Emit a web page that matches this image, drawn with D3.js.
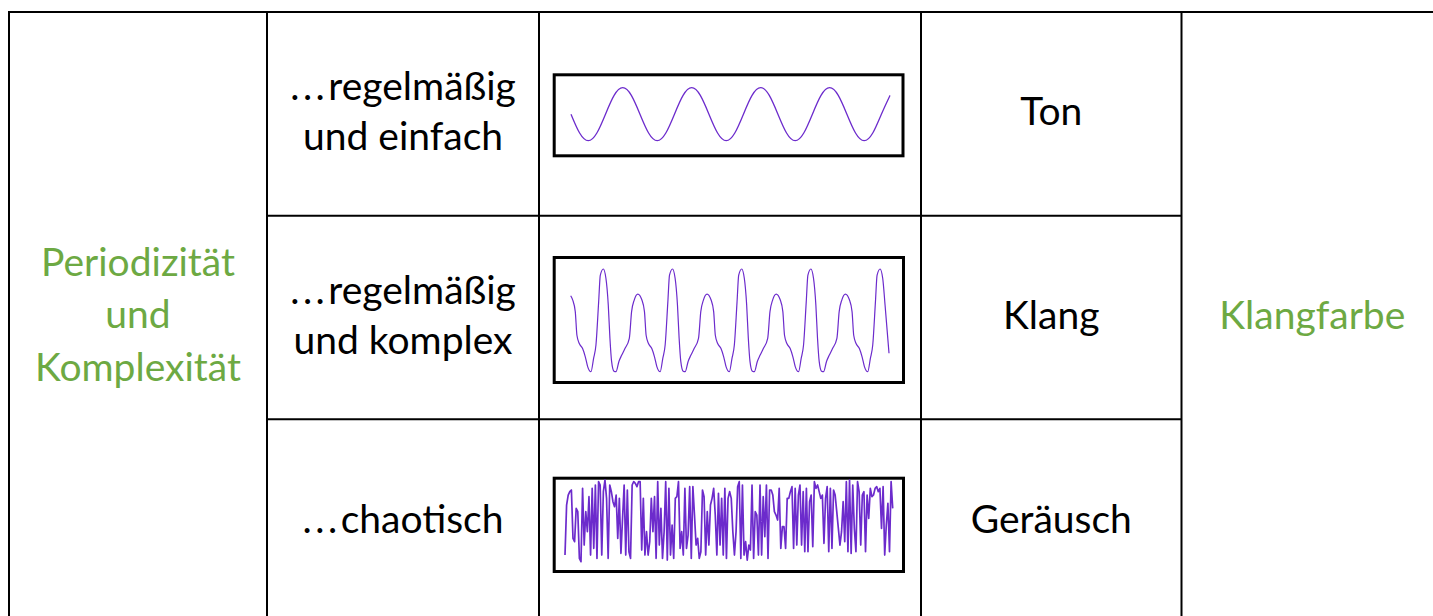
<!DOCTYPE html>
<html><head><meta charset="utf-8">
<script src="https://cdn.jsdelivr.net/npm/d3@7"></script>
<style>html,body{margin:0;padding:0;background:#fff;overflow:hidden}svg{display:block}</style>
</head><body>
<script>
// ---------- data ----------
const leftLabel = ["Periodizität", "und", "Komplexität"];
const rowLabels = [["...regelmäßig", "und einfach"], ["...regelmäßig", "und komplex"], ["...chaotisch"]];
const soundTypes = ["Ton", "Klang", "Geräusch"];
const rightLabel = ["Klangfarbe"];

const toneValues = [0,-0.71,-1,-0.71,0,0.71,1,0.71, 0,-0.71,-1,-0.71,0,0.71,1,0.71,
  0,-0.71,-1,-0.71,0,0.71,1,0.71, 0,-0.71,-1,-0.71,0,0.71,1,0.71, 0,-0.71,-1,-0.71,0,0.71];

// complex periodic sound: time (periods) and amplitude
const klangTime = [0.03,0.058,0.096,0.120,0.154,0.202,0.241,0.275,0.323,0.361,0.395,0.434,0.458,0.501,0.539,0.573,0.597,0.621,0.655,0.684,0.727,0.766,0.814,0.877,0.910,0.949,
  1.000,1.058,1.096,1.120,1.154,1.202,1.241,1.275,1.323,1.361,1.395,1.434,1.458,1.501,1.539,1.573,1.597,1.621,1.655,1.684,1.727,1.766,1.814,1.877,1.910,1.949,
  2.000,2.058,2.096,2.120,2.154,2.202,2.241,2.275,2.323,2.361,2.395,2.434,2.458,2.501,2.539,2.573,2.597,2.621,2.655,2.684,2.727,2.766,2.814,2.877,2.910,2.949,
  3.000,3.058,3.096,3.120,3.154,3.202,3.241,3.275,3.323,3.361,3.395,3.434,3.458,3.501,3.539,3.573,3.597,3.621,3.655,3.684,3.727,3.766,3.814,3.877,3.910,3.949,
  4.000,4.058,4.096,4.120,4.154,4.202,4.241,4.275,4.323,4.361,4.395,4.434,4.458,4.501,4.539,4.573,4.63];
const klangValue = [0.48,0.40,0.17,-0.29,-0.45,-0.55,-0.71,-0.90,-1.00,-0.74,-0.48,0.36,0.88,1.00,0.82,0.30,-0.35,-0.80,-0.99,-1.00,-0.80,-0.68,-0.55,-0.35,0.17,0.40,
  0.51,0.40,0.17,-0.29,-0.45,-0.55,-0.71,-0.90,-1.00,-0.74,-0.48,0.36,0.88,1.00,0.82,0.30,-0.35,-0.80,-0.99,-1.00,-0.80,-0.68,-0.55,-0.35,0.17,0.40,
  0.51,0.40,0.17,-0.29,-0.45,-0.55,-0.71,-0.90,-1.00,-0.74,-0.48,0.36,0.88,1.00,0.82,0.30,-0.35,-0.80,-0.99,-1.00,-0.80,-0.68,-0.55,-0.35,0.17,0.40,
  0.51,0.40,0.17,-0.29,-0.45,-0.55,-0.71,-0.90,-1.00,-0.74,-0.48,0.36,0.88,1.00,0.82,0.30,-0.35,-0.80,-0.99,-1.00,-0.80,-0.68,-0.55,-0.35,0.17,0.40,
  0.51,0.40,0.17,-0.29,-0.45,-0.55,-0.71,-0.90,-1.00,-0.74,-0.48,0.36,0.88,1.00,0.82,0.30,-0.64];

// noise: amplitude per sample
const noiseValues = [-0.80,0.40,0.64,0.72,0.76,-0.40,-0.48,0.32,0.24,-0.88,-0.96,0.80,-0.56,0.24,-0.24,0.60,-0.80,0.80,-0.64,0.88,
  -0.88,0.96,0.88,-0.80,0.72,1.00,0.56,-0.88,0.88,0.72,0.48,0.36,0.64,-0.40,0.56,-0.76,0.08,0.88,-0.80,0.76,
  -0.72,-0.88,0.88,0.96,0.92,0.84,0.96,0.96,-0.68,0.56,-0.80,-0.24,-0.80,-0.48,0.56,-0.24,0.60,-0.88,0.96,-0.56,
  0.32,-0.88,-0.24,0.96,-0.92,0.80,-0.80,-0.08,-0.88,0.56,0.60,0.96,-0.64,-0.24,-0.80,0.80,-0.64,-0.32,0.84,-0.88,
  0.84,0.16,-0.56,-0.40,-0.88,-0.72,0.76,0.60,-0.80,0.24,-0.56,0.40,0.56,0.80,0.16,-0.80,0.68,-0.56,0.56,-0.80,
  0.80,-0.88,0.56,0.72,0.56,-0.24,-0.80,-0.24,0.84,0.96,-0.88,0.88,-0.80,-0.48,-0.92,-0.56,-0.68,0.88,-0.88,0.24,
  0.16,-0.80,0.88,-0.80,0.60,-0.36,0.88,-0.88,0.76,0.76,0.64,0.24,0.16,0.04,0.80,-0.64,-0.12,-0.12,-0.64,0.56,
  0.56,0.72,0.84,-0.64,0.80,-0.56,0.64,0.88,-0.56,0.72,-0.72,0.80,-0.72,0.48,0.64,-0.60,0.96,0.80,0.88,0.72,
  0.56,0.64,-0.52,0.56,0.84,-0.72,0.80,-0.64,0.76,0.64,0.24,-0.16,-0.56,-0.24,0.48,-0.48,0.96,-0.72,1.00,-0.76,
  0.88,-0.16,-0.72,0.96,0.72,-0.56,0.64,0.72,-0.72,0.64,0.08,0.80,0.60,0.64,0.80,0.84,0.72,0.80,-0.16,0.84,
  -0.80,-0.08,0.44,-0.72,0.96,0.32];

// ---------- layout ----------
const W = 1433, H = 616;
const green = "#6DA943", purple = "#6c2bcc";
const font = "Lato, 'Open Sans', sans-serif";
const fs = 39;

const svg = d3.select("body").append("svg").attr("width", W).attr("height", H);

const colEdges = [9, 267, 539, 921, 1181.5, 1442];
const tTop = 12, tBottom = 623;
const row = d3.scaleBand().domain(soundTypes).range([tTop, tBottom]);

// grid
const grid = svg.append("g").attr("stroke", "#000").attr("stroke-width", 2).attr("fill", "none");
grid.append("line").attr("x1", colEdges[0] - 1).attr("x2", W).attr("y1", tTop).attr("y2", tTop);
grid.append("line").attr("x1", colEdges[0] - 1).attr("x2", W).attr("y1", tBottom).attr("y2", tBottom);
colEdges.forEach(x => grid.append("line").attr("x1", x).attr("x2", x).attr("y1", tTop - 1).attr("y2", tBottom + 1));
soundTypes.slice(1).forEach(s => grid.append("line")
  .attr("x1", colEdges[1]).attr("x2", colEdges[4]).attr("y1", row(s)).attr("y2", row(s)));

// text helper
function lines(x, cy, arr, spacing, color) {
  arr.forEach((t, i) => {
    const txt = svg.append("text").attr("text-anchor", "middle").attr("font-family", font)
      .attr("font-size", fs).attr("fill", color)
      .attr("x", x).attr("y", cy + 11.5 + (i - (arr.length - 1) / 2) * spacing);
    if (t.startsWith("...")) {
      txt.append("tspan").attr("letter-spacing", 3.5).text("...");
      txt.append("tspan").text(t.slice(3));
    } else {
      txt.text(t);
    }
  });
}
const mid = (a, b) => (a + b) / 2;

lines(mid(colEdges[0], colEdges[1]), mid(tTop, tBottom) - 1, leftLabel, 52.5, green);
lines(mid(colEdges[4], colEdges[5]) + 0.5, mid(tTop, tBottom), rightLabel, 50, green);
soundTypes.forEach((s, i) => {
  const cy = row(s) + row.bandwidth() / 2;
  lines(mid(colEdges[1], colEdges[2]), cy, rowLabels[i], 50, "#000");
  lines(mid(colEdges[3], colEdges[4]), cy, [s], 50, "#000");
});

// wave boxes (outer edges) and wave extents
const boxes = [
  {x0: 552.7, x1: 904.5, y0: 73.3, y1: 157.3, wx0: 571, wx1: 890, wyTop: 87.7, wyBot: 140.7},
  {x0: 552.7, x1: 905, y0: 256, y1: 384, wx0: 570.7, wx1: 889, wyTop: 269, wyBot: 371.7},
  {x0: 552.7, x1: 905, y0: 476.7, y1: 573, wx0: 565, wx1: 892.7, wyTop: 480, wyBot: 563.4}
];
const series = [
  toneValues.map((v, i) => [i, v]),
  klangTime.map((t, i) => [t, klangValue[i]]),
  noiseValues.map((v, i) => [i, v])
];
const curves = [d3.curveNatural, d3.curveMonotoneX, d3.curveLinear];
const widths = [1.3, 1.2, 1.7];

boxes.forEach((b, i) => {
  svg.append("rect").attr("x", b.x0 + 1.5).attr("y", b.y0 + 1.5)
    .attr("width", b.x1 - b.x0 - 3).attr("height", b.y1 - b.y0 - 3)
    .attr("fill", "#fff").attr("stroke", "#000").attr("stroke-width", 3);
  const data = series[i];
  const x = d3.scaleLinear().domain(d3.extent(data, d => d[0])).range([b.wx0, b.wx1]);
  const y = d3.scaleLinear().domain([-1, 1]).range([b.wyBot, b.wyTop]);
  svg.append("path").datum(data)
    .attr("d", d3.line().x(d => x(d[0])).y(d => y(d[1])).curve(curves[i]))
    .attr("fill", "none").attr("stroke", purple).attr("stroke-width", widths[i])
    .attr("stroke-linejoin", "round");
});
</script>
</body></html>
